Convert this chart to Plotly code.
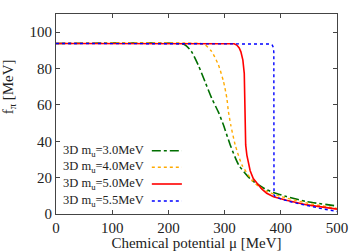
import plotly.graph_objects as go

# ---- data ----
mu_30 = [0, 215, 229, 241, 253, 265, 277, 289, 298, 310, 325, 345, 358, 372, 387, 410, 447, 500]
f_30 = [93.8, 93.8, 93.1, 89.4, 82, 72.9, 63.7, 56, 48.9, 38, 27, 19.5, 16.5, 13.8, 11.8, 9.6, 6.8, 4.4]

mu_40 = [0, 255, 265, 277, 289, 298, 304, 306.5, 311, 319, 331, 348.5, 360, 375, 400, 447, 500]
f_40 = [93.8, 93.8, 93.1, 89.4, 82, 72.9, 63.7, 57, 48.9, 37.9, 26.9, 18.7, 15.3, 12.5, 9.6, 6.0, 3.1]

mu_50 = [0, 312, 317, 321.7, 326, 329, 332.5, 335, 336, 336.6, 337.5, 339.6, 342.5, 345.5, 351, 357.5, 366, 375, 387, 410, 447, 500]
f_50 = [93.8, 93.8, 93.6, 92.9, 91.3, 89.2, 84.6, 77.3, 59, 45, 38, 32.4, 27.5, 23.8, 19.5, 16.9, 13.8, 11.4, 9.5, 7.6, 5.0, 2.7]

mu_55 = [0, 378, 382, 385, 386.8, 387.6, 387.8, 387.9, 390, 400, 420, 447, 470, 500]
f_55 = [93.8, 93.8, 93.5, 92.8, 91.5, 89, 50, 10.4, 9.6, 8.3, 6.5, 4.5, 3.1, 1.4]

labels = ["3D m<sub>u</sub>=3.0MeV", "3D m<sub>u</sub>=4.0MeV",
          "3D m<sub>u</sub>=5.0MeV", "3D m<sub>u</sub>=5.5MeV"]
x_ticks = [0, 100, 200, 300, 400, 500]
y_ticks = [0, 20, 40, 60, 80, 100]

series = [
    (mu_30, f_30, "rgb(0,110,0)", "dashdot", 1.6, "spline"),
    (mu_40, f_40, "rgb(255,170,0)", "dot", 1.4, "spline"),
    (mu_50, f_50, "rgb(255,0,0)", "solid", 1.6, "linear"),
    (mu_55, f_55, "rgb(0,0,255)", "dot", 1.4, "linear"),
]

FONT = "Liberation Serif"
fig = go.Figure()
for (x, y, c, d, w, sh), name in zip(series, labels):
    fig.add_trace(go.Scatter(x=x, y=y, mode="lines", name=name,
                             line=dict(color=c, dash=d, width=w, shape=sh, smoothing=0.6),
                             showlegend=False))

# manual gnuplot-style legend (text left, sample right)
row_y = [0.3165, 0.2335, 0.15, 0.065]
for (x, y, c, d, w, sh), name, ry in zip(series, labels, row_y):
    fig.add_annotation(x=0.322, y=ry, xref="paper", yref="paper", text=name,
                       showarrow=False, xanchor="right", yanchor="middle",
                       font=dict(family=FONT, size=12.5, color="#222"))
    fig.add_shape(type="line", xref="paper", yref="paper", x0=0.341, x1=0.448,
                  y0=ry, y1=ry, line=dict(color=c, dash=d, width=w))

fig.add_annotation(x=-0.166, y=0.635, xref="paper", yref="paper",
                   text="f<sub>π</sub> [MeV]", textangle=-90, showarrow=False,
                   xanchor="center", yanchor="middle",
                   font=dict(family=FONT, size=15, color="#222"))

axis_common = dict(showline=True, linecolor="#444", linewidth=1, mirror="ticks",
                   ticks="inside", ticklen=4, tickcolor="#444", showgrid=False,
                   zeroline=False, tickfont=dict(family=FONT, size=15, color="#222"))
fig.update_xaxes(range=[0, 500], tickvals=x_ticks,
                 title=dict(text="Chemical potential μ [MeV]", standoff=4,
                            font=dict(family=FONT, size=15, color="#222")),
                 **axis_common)
fig.update_yaxes(range=[0, 110], tickvals=y_ticks, **axis_common)

fig.update_layout(width=358, height=251, margin=dict(l=56, r=21, t=14, b=37, autoexpand=False),
                  plot_bgcolor="white", paper_bgcolor="white")
fig.write_html("out.html", config={"displayModeBar": False},
               post_script="document.body.style.margin='0';document.body.style.padding='0';")
